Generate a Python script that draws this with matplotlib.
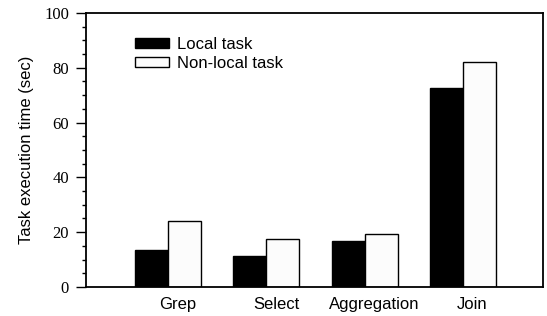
import numpy as np
import matplotlib
matplotlib.use("Agg")
import matplotlib.pyplot as plt

categories = ["Grep", "Select", "Aggregation", "Join"]
local_task = [13.5, 11.4, 16.8, 72.5]
nonlocal_task = [24.2, 17.5, 19.2, 82.0]

plt.rcParams["font.family"] = "Liberation Sans"
plt.rcParams["font.size"] = 12

fig = plt.figure(figsize=(5.47, 3.16), dpi=100)
ax = fig.add_axes([0.157, 0.092, 0.836, 0.867])

x = np.arange(len(categories))
w = 0.336
ax.bar(x - w / 2, local_task, w, color="black", edgecolor="black",
       linewidth=1.0, label="Local task")
ax.bar(x + w / 2, nonlocal_task, w, color="#fcfcfc", edgecolor="black",
       linewidth=1.0, label="Non-local task")

ax.set_xlim(-0.84, 3.82)
ax.set_ylim(0, 100)
ax.set_xticks(x + 0.1)
ax.set_xticklabels(categories)
ax.tick_params(axis="x", length=0, pad=7)

ax.set_yticks(np.arange(0, 101, 20))
ax.set_yticks(np.arange(0, 101, 5), minor=True)
ax.tick_params(axis="y", which="major", direction="out", length=7.2,
               width=1.0, pad=5)
ax.tick_params(axis="y", which="minor", direction="out", length=3,
               width=1.0)
for lab in ax.get_yticklabels():
    lab.set_fontfamily("Liberation Serif")
    lab.set_fontsize(12)

for s in ax.spines.values():
    s.set_linewidth(1.3)

ax.set_ylabel("Task execution time (sec)", labelpad=7)

ax.legend(loc="upper left", bbox_to_anchor=(0.107, 0.913), frameon=False,
          borderpad=0, borderaxespad=0, handlelength=2.04,
          handleheight=0.6, handletextpad=0.48, labelspacing=0.25)

fig.savefig("out.png", dpi=100)
